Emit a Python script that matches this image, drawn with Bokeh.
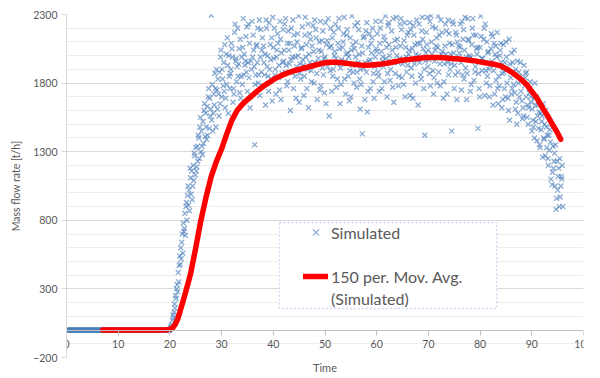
import numpy as np
from bokeh.plotting import figure
from bokeh.models import Range1d, FixedTicker, Legend, LegendItem, BoxAnnotation, Title
from bokeh.embed import file_html
from bokeh.resources import INLINE

# ---------------- data ----------------
X_TICKS = [0, 10, 20, 30, 40, 50, 60, 70, 80, 90, 100]
Y_TICKS = [-200, 300, 800, 1300, 1800, 2300]

# idle period: flow is zero from t=0 to t=20 (sample step 0.1)
FLAT_STEP = 0.1
FLAT_Y = [0] * 200

# simulated samples after start-up, four interleaved sample sets, step 0.4
SIM_STEP = 0.4
SIM_A_START = 20.0
SIM_A = [5, 40, 130, 230, 420, 480, 700, 740, 930, 910, 1110, 1050, 1270, 1190, 1400, 1300, 1520, 1410, 1630, 1470,
         2295, 1580, 1760, 1610, 1880, 1700, 1950, 1690, 1930, 1760, 2050, 1720, 1980, 1850, 2120, 1790, 2010, 1880, 2230, 1700,
         1990, 1350, 2080, 1860, 2190, 1780, 2010, 1920, 2240, 1830, 2060, 1900, 2160, 1750, 2020, 1960, 2270, 1810, 2090, 1880,
         2150, 1690, 2000, 1940, 2210, 1850, 2080, 1620, 2120, 1930, 2260, 1870, 2040, 1780, 2180, 1990, 2110, 1560, 2070, 1900,
         2230, 1830, 2050, 1970, 2160, 1720, 2020, 1890, 2290, 1800, 2100, 1950, 1610, 1430, 2140, 1880, 2060, 1760, 2200, 1920,
         2030, 1850, 2250, 1990, 2110, 1700, 2080, 1960, 2270, 1870, 2120, 1980, 2190, 1790, 2060, 1930, 2240, 1850, 2150, 2010,
         1640, 2090, 2280, 1900, 2170, 2040, 1780, 2210, 1960, 2130, 1880, 2260, 1990, 2070, 1720, 2160, 1940, 2230, 1860, 2100,
         2020, 1750, 2190, 1910, 2270, 1980, 2080, 1820, 2150, 1470, 2060, 1890, 2200, 1800, 2030, 1930, 2140, 1720, 1990, 1850,
         2090, 1680, 1950, 1800, 2120, 1720, 1880, 1610, 1960, 1700, 1820, 1560, 1870, 1640, 1760, 1450, 1690, 1520, 1640, 1330,
         1560, 1390, 1480, 1200, 1370, 1150, 1290, 960, 1180, 1050, 900]
SIM_B_START = 20.1
SIM_B = [15, 70, 190, 300, 350, 600, 560, 850, 800, 1020, 990, 1200, 1130, 1340, 1250, 1450, 1360, 1580, 1420, 1690,
         1530, 1720, 1480, 1830, 1650, 1900, 1740, 2010, 1580, 1870, 1990, 2170, 1810, 1940, 1690, 2060, 1930, 2210, 1840, 1960,
         2150, 1790, 1950, 2260, 1880, 2070, 1640, 2000, 1900, 2130, 1980, 1720, 2090, 2250, 1870, 2040, 1930, 2180, 1600, 1990,
         2070, 1920, 2290, 1830, 1970, 2150, 1760, 2010, 1890, 2220, 1950, 1680, 2100, 2030, 1860, 2240, 1920, 2060, 1740, 2170,
         1980, 2090, 1650, 1940, 2280, 2010, 1850, 2130, 1930, 2050, 1770, 2190, 1900, 2020, 1680, 2240, 1960, 2090, 1810, 1990,
         2160, 1740, 2030, 1920, 2290, 1870, 2000, 2180, 1660, 2060, 1950, 2230, 1840, 2110, 1990, 2170, 1710, 2050, 1940, 2260,
         2000, 1860, 2120, 1420, 2080, 1970, 2290, 1890, 2040, 1800, 2150, 2010, 1690, 2230, 1950, 2090, 1450, 2020, 2170, 1880,
         2060, 2250, 1830, 1990, 2120, 1740, 2200, 1960, 2050, 1870, 2290, 1980, 1710, 2100, 1900, 2050, 1640, 2010, 2170, 1780,
         1950, 2080, 1700, 1900, 1530, 2020, 1790, 1900, 1580, 1850, 1670, 1930, 1700, 1500, 1810, 1610, 1400, 1700, 1470, 1580,
         1260, 1500, 1330, 1420, 1100, 1340, 1050, 1230, 900, 1120]
SIM_C_START = 20.2
SIM_C = [20, 110, 160, 330, 470, 520, 780, 690, 980, 870, 1160, 1090, 1330, 1230, 1480, 1340, 1600, 1480, 1700, 1560,
         1790, 1640, 1900, 1720, 1990, 1830, 2080, 1790, 2000, 1900, 1660, 2230, 1920, 2050, 1850, 2270, 1960, 1740, 2090, 1900,
         2040, 1860, 2200, 1710, 2040, 1950, 2260, 1850, 2080, 1670, 2200, 1990, 1840, 2120, 1950, 2230, 1780, 2040, 1970, 2260,
         1850, 2100, 1660, 2050, 1930, 2280, 1900, 2160, 1810, 2030, 2190, 1940, 1750, 2110, 1980, 1650, 2270, 1890, 2130, 2000,
         1770, 2200, 1910, 2060, 1830, 2150, 1990, 1700, 2080, 2220, 1880, 2010, 1790, 2130, 1950, 1590, 2160, 2020, 1870, 2250,
         1930, 2090, 1760, 2140, 1980, 2220, 1820, 2040, 1950, 2280, 1780, 2070, 1940, 2240, 1880, 2010, 2190, 1690, 2080, 1970,
         2230, 1830, 2050, 1960, 2280, 1870, 2100, 1720, 2200, 2060, 1940, 2170, 1810, 2010, 2260, 1900, 2080, 1760, 2150, 1990,
         2230, 1860, 2040, 1680, 2110, 1990, 2270, 1880, 2010, 1760, 2140, 1950, 2230, 1850, 1700, 2160, 1890, 2070, 1760, 2000,
         1620, 1880, 2100, 1690, 1940, 1760, 2040, 1660, 1800, 1950, 1540, 1780, 1880, 1620, 1700, 1530, 1800, 1380, 1590, 1460,
         1650, 1270, 1420, 1310, 1500, 1180, 1350, 1020, 1250, 1100]
SIM_D_START = 20.3
SIM_D = [30, 90, 250, 280, 540, 640, 720, 900, 1050, 1180, 950, 1290, 1160, 1420, 1550, 1280, 1650, 1390, 1760, 1610,
         1450, 1870, 1750, 1560, 2040, 1780, 1620, 2130, 1850, 2090, 1760, 1960, 2200, 1730, 1990, 1860, 2140, 1950, 1620, 2250,
         1920, 2070, 1800, 1990, 2130, 1860, 2200, 1740, 1970, 2280, 1860, 2040, 1930, 1680, 2190, 1880, 2090, 1940, 2200, 1760,
         1990, 2160, 1870, 2060, 1710, 1990, 2230, 1950, 2070, 1800, 2130, 1980, 2250, 1910, 1730, 2080, 1950, 2200, 1850, 2030,
         1940, 2270, 1790, 2100, 1960, 2190, 1670, 2040, 1880, 1990, 2240, 1830, 2070, 1910, 2180, 1740, 1970, 2130, 1690, 2050,
         1880, 2200, 1960, 1810, 2060, 2240, 1900, 1770, 2110, 2000, 1850, 2270, 1970, 1700, 2150, 2040, 1910, 2220, 1800, 2090,
         1950, 2180, 1760, 2020, 1920, 2250, 2010, 1840, 2070, 2290, 1780, 2030, 1940, 2180, 1860, 2010, 2250, 1930, 1680, 2070,
         1950, 2120, 2280, 1870, 2000, 1790, 2150, 1920, 2060, 1700, 1980, 2120, 1890, 2020, 1780, 1960, 2090, 1820, 1650, 2040,
         1870, 1760, 1990, 1600, 1840, 1950, 1730, 1500, 1880, 1740, 1620, 1840, 1550, 1730, 1660, 1480, 1640, 1560, 1350, 1520,
         1400, 1600, 1250, 1460, 1060, 1230, 880, 1120, 970, 1200]

# 150 period moving average of the simulated series
MA_X = [7, 8, 9, 10, 11, 12, 13, 14, 15, 16, 17, 18, 19, 20, 20.5, 21, 21.5, 22, 23, 24, 25, 26, 27, 28, 29, 30,
        31, 32, 33, 34, 35, 36, 37, 38, 39, 40, 41, 42, 43, 44, 45, 46, 47, 48, 49, 50, 51, 52, 53, 54, 55, 56, 57, 58,
        59, 60, 61, 62, 63, 64, 65, 66, 67, 68, 69, 70, 71, 72, 73, 74, 75, 76, 77, 78, 79, 80, 81, 82, 83, 84, 85, 86,
        87, 88, 89, 90, 91, 92, 93, 94, 95, 95.6]
MA_Y = [0, 0, 0, 0, 0, 0, 0, 0, 0, 0, 0, 0, 0, 5, 15, 40, 80, 140, 270, 410, 600, 800, 970, 1120, 1230, 1320,
        1430, 1530, 1600, 1645, 1680, 1712, 1745, 1775, 1800, 1825, 1845, 1862, 1877, 1890, 1900, 1910, 1920, 1930, 1940, 1948, 1952, 1952, 1950, 1945, 1940, 1935, 1932, 1930,
        1932, 1936, 1940, 1945, 1952, 1960, 1966, 1971, 1976, 1980, 1984, 1986, 1987, 1986, 1984, 1981, 1978, 1975, 1971, 1967, 1962, 1955, 1948, 1942, 1935, 1925, 1905, 1882,
        1855, 1825, 1790, 1740, 1690, 1625, 1565, 1500, 1435, 1390]

# ---------------- figure ----------------
FONT = "Lato"
GREY = "#595959"
BLUE = "#4A7EBB"

p = figure(width=600, height=378, output_backend="svg", toolbar_location=None,
           x_range=Range1d(0, 100), y_range=Range1d(-200, 2300),
           min_border_left=66, min_border_right=17, min_border_top=14, min_border_bottom=21,
           background_fill_color="white", border_fill_color="white")
p.outline_line_color = None

# grid
p.xgrid.visible = False
p.ygrid.grid_line_color = "#D9D9D9"
p.ygrid.minor_grid_line_color = "#EDEDED"

# y axis
p.yaxis.ticker = FixedTicker(ticks=Y_TICKS, minor_ticks=list(range(-200, 2301, 100)))
p.yaxis.axis_label = "Mass flow rate [t/h]"
p.yaxis.axis_label_text_font = FONT
p.yaxis.axis_label_text_font_size = "10.5px"
p.yaxis.axis_label_text_font_style = "normal"
p.yaxis.axis_label_text_color = GREY
p.yaxis.axis_label_standoff = 8
p.yaxis.major_label_text_font = FONT
p.yaxis.major_label_text_font_size = "10.5px"
p.yaxis.major_label_text_color = GREY
p.yaxis.major_label_standoff = 4
p.yaxis.axis_line_color = "#D9D9D9"
p.yaxis.major_tick_line_color = "#D9D9D9"
p.yaxis.major_tick_in = 0
p.yaxis.major_tick_out = 5
p.yaxis.minor_tick_line_color = None

# x axis crossing at y = 0
p.xaxis.fixed_location = 0
p.xaxis.ticker = FixedTicker(ticks=X_TICKS, minor_ticks=[])
p.xaxis.major_label_text_font = FONT
p.xaxis.major_label_text_font_size = "10.5px"
p.xaxis.major_label_text_color = GREY
p.xaxis.major_label_standoff = 5
p.xaxis.axis_line_color = "#BFBFBF"
p.xaxis.major_tick_line_color = "#BFBFBF"
p.xaxis.major_tick_in = 0
p.xaxis.major_tick_out = 5
p.xaxis.minor_tick_line_color = None

p.add_layout(Title(text="Time", align="center", text_font=FONT, text_font_size="11px",
                   text_font_style="normal", text_color=GREY, standoff=2), "below")

# scatter
flat_x = np.round(np.arange(len(FLAT_Y)) * FLAT_STEP, 2)
mk = dict(marker="x", size=7, line_color=BLUE, line_alpha=0.65, line_width=1.3)
r_sim = p.scatter(flat_x, FLAT_Y, **mk)
for start, ys in [(SIM_A_START, SIM_A), (SIM_B_START, SIM_B), (SIM_C_START, SIM_C), (SIM_D_START, SIM_D)]:
    xs = np.round(start + SIM_STEP * np.arange(len(ys)), 2)
    p.scatter(xs, ys, **mk)

# moving average
r_ma = p.line(MA_X, MA_Y, line_color="#FF0000", line_width=5.5, line_join="round", line_cap="round")

# legend frame
p.add_layout(BoxAnnotation(left=41.2, right=83.2, bottom=157, top=784,
                           fill_color="white", fill_alpha=1.0,
                           line_color="#5B8BD0", line_dash="2 2", line_width=1.3))

dummy = p.line(x=[], y=[], line_alpha=0)
legend = Legend(items=[LegendItem(label="Simulated", renderers=[r_sim]),
                       LegendItem(label=" ", renderers=[dummy]),
                       LegendItem(label="150 per. Mov. Avg.", renderers=[r_ma]),
                       LegendItem(label="(Simulated)", renderers=[dummy])],
                location=(237, 48), padding=0, margin=0, spacing=0,
                label_height=22, glyph_height=22, glyph_width=25, label_standoff=3,
                border_line_color=None, background_fill_alpha=0,
                label_text_font=FONT, label_text_font_size="16px", label_text_color=GREY)
p.add_layout(legend)

open("out.html", "w").write(file_html(p, INLINE))
